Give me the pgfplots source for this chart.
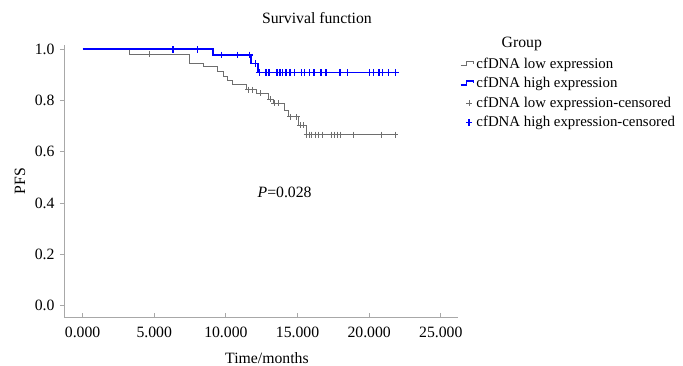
\documentclass[border=0pt]{standalone}
\usepackage{fontspec}
\setmainfont{Liberation Serif}
\usepackage{pgfplots}
\pgfplotsset{compat=1.18}
\definecolor{kmgray}{HTML}{6E6E6E}
\definecolor{axgray}{HTML}{A8A8A8}
\definecolor{kmblue}{HTML}{0000FF}
\pgfplotsset{kmstep legend/.style={legend image code/.code={\draw[##1] (0bp,-1bp) -- (6bp,-1bp) -- (6bp,3bp) -- (13bp,3bp) -- (13bp,0.5bp);}}}
\begin{document}
\fontsize{15.8}{18}\selectfont
\begin{tikzpicture}
\path[use as bounding box] (-64bp,-48.7bp) rectangle (619bp,317.3bp);
\begin{axis}[
  scale only axis, width=394bp, height=272.3bp,
  at={(0,0)}, anchor=south west,
  xmin=-1.3, xmax=26.2, ymin=-0.047, ymax=1.017,
  axis x line*=bottom, axis y line*=left,
  axis line style={-, axgray, line width=0.8bp},
  /pgf/number format/assume math mode=true,
  xtick={0,5,10,15,20,25},
  ytick={0,0.2,0.4,0.6,0.8,1.0},
  xticklabel style={/pgf/number format/.cd, fixed, fixed zerofill, precision=3, 1000 sep={}},
  yticklabel style={/pgf/number format/.cd, fixed, fixed zerofill, precision=1},
  tick style={axgray, line width=0.8bp},
  tick align=outside, major tick length=4bp,
  xtick style={yshift=4bp},
  xlabel={Time/months},
  ylabel={PFS},
  xlabel style={at={(axis description cs:0.515,-0.15)}, anchor=center},
  ylabel style={at={(axis description cs:-0.112,0.5)}, anchor=center},
  clip=false,
  legend style={at={(axis description cs:1.004,0.96)}, anchor=north west, draw=none, fill=none,
    inner xsep=0pt, inner ysep=0pt, row sep=2.6bp, cells={anchor=west},
    font=\fontsize{14.9}{17}\selectfont},
  legend cell align=left,
]
% grey KM curve (low expression)
\addplot[kmgray, line width=0.9bp, const plot mark left, kmstep legend]
coordinates {
(0,1.0) (3.3,0.982) (7.45,0.945) (8.4,0.932) (9.4,0.912) (9.8,0.895) (10.1,0.878) (10.45,0.861)
(11.45,0.843) (12.15,0.828) (12.95,0.805) (13.3,0.789) (14.1,0.763) (14.36,0.736)
(15.06,0.704) (15.6,0.667) (21.93,0.667)
};
\addlegendentry{cfDNA low expression}
% blue KM curve (high expression)
\addplot[kmblue, line width=1.7bp, const plot mark left, kmstep legend]
coordinates {
(0,1.0) (9.1,0.978) (11.75,0.945) (12.25,0.910) (21.9,0.910)
};
\addlegendentry{cfDNA high expression}
% grey censored
\addplot[only marks, mark=+, mark size=3bp, kmgray, mark options={line width=0.9bp}]
coordinates {
(4.65,0.982) (11.56,0.843) (11.87,0.843) (12.38,0.828) (13.08,0.805) (13.38,0.789) (13.7,0.789)
(14.48,0.736) (14.94,0.736) (15.17,0.704) (15.4,0.704)
(15.64,0.667) (15.82,0.667) (15.99,0.667) (16.22,0.667) (16.45,0.667) (16.76,0.667) (17.34,0.667)
(17.55,0.667) (17.78,0.667) (17.97,0.667) (18.9,0.667) (20.88,0.667) (21.81,0.667)
};
\addlegendentry{cfDNA low expression-censored}
% blue censored
\addplot[only marks, mark=+, mark size=3.3bp, kmblue, mark options={line width=1.3bp}]
coordinates {
(6.3,1.0) (8.0,1.0) (9.7,0.978) (10.82,0.978) (11.65,0.978) (12.05,0.945)
(12.33,0.910) (12.80,0.910) (13.01,0.910) (13.52,0.910) (13.62,0.910) (13.78,0.910) (13.97,0.910)
(14.20,0.910) (14.48,0.910) (14.78,0.910) (15.29,0.910) (15.47,0.910) (15.82,0.910) (16.15,0.910)
(16.64,0.910) (16.99,0.910) (17.97,0.910) (18.48,0.910) (20.01,0.910) (20.29,0.910) (20.69,0.910)
(20.92,0.910) (21.37,0.910) (21.86,0.910)
};
\addlegendentry{cfDNA high expression-censored}
\node[anchor=center] at (axis description cs:0.642,1.099) {Survival function};
\node[anchor=center] at (axis description cs:1.162,1.004) {Group};
\node[anchor=center] at (axis cs:14.1,0.443) {\textit{P}=0.028};
\end{axis}
\end{tikzpicture}
\end{document}
